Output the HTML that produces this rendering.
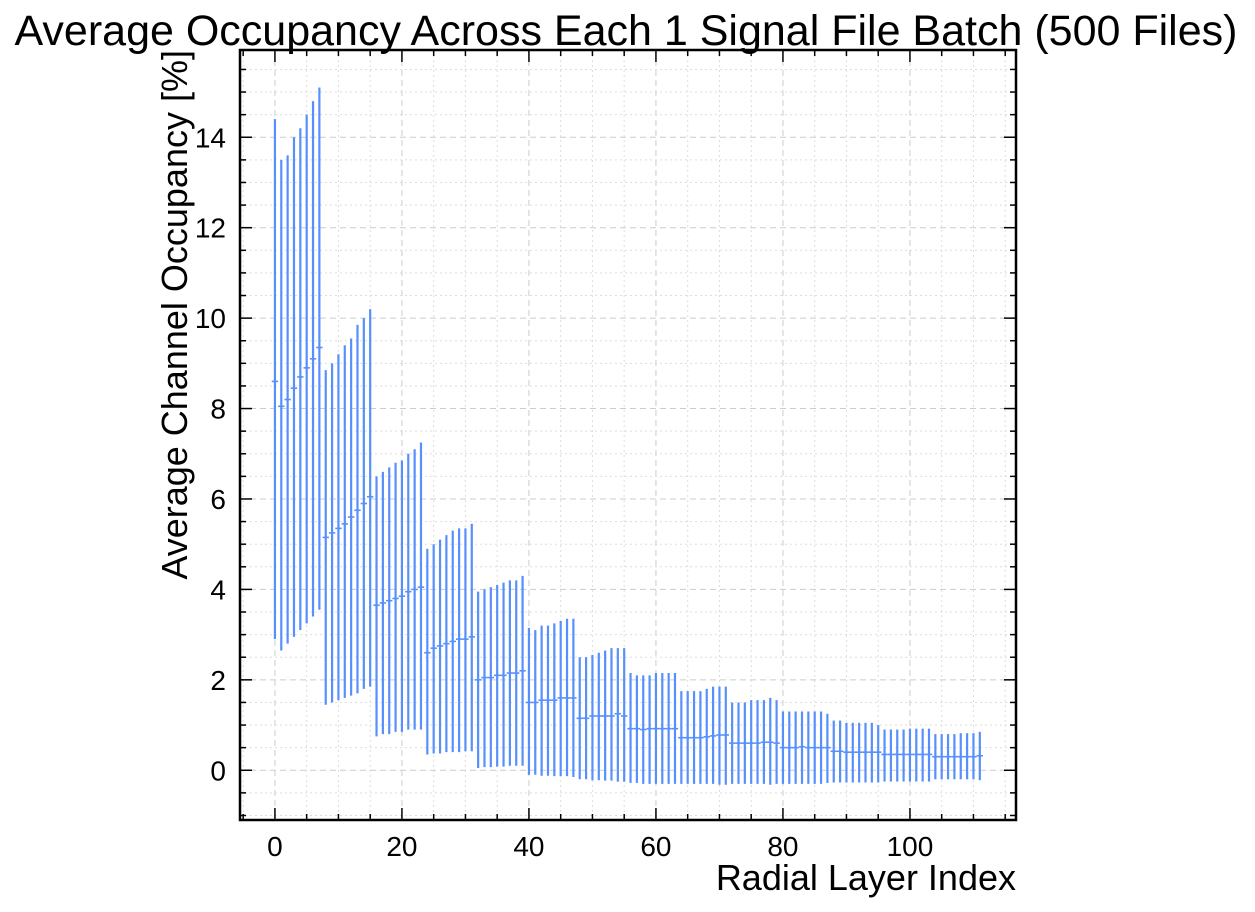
<!DOCTYPE html>
<html><head><meta charset="utf-8"><style>
body{margin:0;background:#fff;font-family:"Liberation Sans",sans-serif}
</style></head><body>
<svg id="c" width="1255" height="907" xmlns="http://www.w3.org/2000/svg" style="font-family:'Liberation Sans',sans-serif"></svg>
<script>
const layers=[];for(let i=0;i<112;i++)layers.push(i);
const means=[8.6,8.05,8.2,8.45,8.7,8.9,9.1,9.35, 5.15,5.25,5.35,5.45,5.6,5.75,5.9,6.05, 3.65,3.7,3.75,3.8,3.85,3.95,4.0,4.05, 2.6,2.7,2.75,2.8,2.85,2.9,2.9,2.95, 2.0,2.05,2.05,2.1,2.1,2.15,2.15,2.2, 1.5,1.5,1.55,1.55,1.55,1.6,1.6,1.6, 1.15,1.15,1.2,1.2,1.2,1.2,1.25,1.2, 0.92,0.92,0.9,0.92,0.92,0.92,0.92,0.92, 0.72,0.72,0.72,0.72,0.74,0.76,0.78,0.78, 0.6,0.6,0.6,0.6,0.6,0.62,0.62,0.6, 0.5,0.5,0.5,0.52,0.5,0.5,0.5,0.5, 0.42,0.42,0.4,0.4,0.4,0.4,0.4,0.4, 0.35,0.35,0.35,0.35,0.35,0.35,0.35,0.35, 0.3,0.3,0.3,0.3,0.3,0.3,0.3,0.32];
const upper=[14.4,13.5,13.6,14.0,14.2,14.5,14.8,15.1, 8.85,9.0,9.2,9.4,9.55,9.85,10.0,10.2, 6.5,6.6,6.7,6.8,6.85,7.0,7.1,7.25, 4.9,5.0,5.1,5.2,5.3,5.35,5.35,5.45, 3.95,4.0,4.05,4.1,4.15,4.2,4.2,4.3, 3.15,3.1,3.2,3.2,3.25,3.3,3.35,3.35, 2.5,2.5,2.55,2.6,2.65,2.7,2.7,2.7, 2.15,2.1,2.1,2.1,2.15,2.15,2.15,2.15, 1.75,1.75,1.75,1.75,1.8,1.85,1.85,1.85, 1.5,1.5,1.5,1.55,1.55,1.55,1.6,1.55, 1.3,1.3,1.3,1.3,1.3,1.3,1.3,1.25, 1.1,1.1,1.05,1.05,1.05,1.05,1.05,1.0, 0.9,0.9,0.9,0.9,0.92,0.92,0.92,0.92, 0.8,0.8,0.8,0.8,0.82,0.82,0.82,0.85];
const lower=[2.9,2.65,2.8,2.95,3.1,3.25,3.4,3.55, 1.45,1.5,1.55,1.6,1.65,1.7,1.8,1.85, 0.75,0.8,0.8,0.85,0.85,0.9,0.9,0.9, 0.35,0.37,0.37,0.4,0.4,0.4,0.42,0.42, 0.05,0.07,0.07,0.08,0.08,0.1,0.1,0.1, -0.1,-0.1,-0.12,-0.12,-0.13,-0.13,-0.13,-0.15, -0.2,-0.2,-0.22,-0.22,-0.23,-0.23,-0.25,-0.25, -0.28,-0.28,-0.3,-0.3,-0.3,-0.3,-0.3,-0.3, -0.3,-0.3,-0.3,-0.3,-0.3,-0.3,-0.32,-0.32, -0.3,-0.3,-0.3,-0.3,-0.3,-0.3,-0.32,-0.3, -0.3,-0.3,-0.3,-0.3,-0.3,-0.3,-0.3,-0.28, -0.27,-0.27,-0.27,-0.27,-0.27,-0.27,-0.27,-0.27, -0.25,-0.25,-0.25,-0.25,-0.25,-0.25,-0.25,-0.25, -0.2,-0.2,-0.2,-0.2,-0.2,-0.2,-0.2,-0.22];
const xTicks=[0,20,40,60,80,100];
const yTicks=[0,2,4,6,8,10,12,14];
const L=240,R=1016,T=50,B=820;
const xMin=-5.5,xMax=116.7,yMin=-1.1,yMax=15.93;
const X=v=>L+(v-xMin)/(xMax-xMin)*(R-L);
const Y=v=>B-(v-yMin)/(yMax-yMin)*(B-T);
const svg=document.getElementById('c');const NS='http://www.w3.org/2000/svg';
function mk(t,a,p){const e=document.createElementNS(NS,t);for(const k in a)e.setAttribute(k,a[k]);(p||svg).appendChild(e);return e;}
const g=mk('g',{});


for(let v=-5;v<=115;v+=5){const x=X(v);const maj=v%20===0;mk('line',{x1:x,x2:x,y1:T,y2:B,stroke:maj?'#ccc':'#ddd','stroke-width':1,'stroke-dasharray':maj?'6,4':'2,3'},g);}
for(let v=-1;v<=15.5;v+=0.5){const y=Y(v);const maj=Math.abs(v%2)<1e-9;mk('line',{x1:L,x2:R,y1:y,y2:y,stroke:maj?'#ccc':'#ddd','stroke-width':1,'stroke-dasharray':maj?'6,4':'2,3'},g);}
const s=mk('g',{});


layers.forEach((l,i)=>{
 const e=mk('line',{x1:X(l),x2:X(l),y1:Y(upper[i]),y2:Y(lower[i]),stroke:'#5790fc','stroke-width':2.2},s);
 
 
 const h=mk('line',{x1:X(l-0.5),x2:X(l+0.5),y1:Y(means[i]),y2:Y(means[i]),stroke:'#5790fc','stroke-width':1.6},s);
 
 
});
for(let v=-5;v<=115;v+=5){const x=X(v);const len=v%20===0?12:6;mk('line',{x1:x,x2:x,y1:B,y2:B-len,stroke:'#000','stroke-width':1.5});mk('line',{x1:x,x2:x,y1:T,y2:T+len,stroke:'#000','stroke-width':1.5});}
for(let v=-1;v<=15.5;v+=0.5){const y=Y(v);const maj=Math.abs(v%2)<1e-9;const len=maj?12:6;mk('line',{x1:L,x2:L+len,y1:y,y2:y,stroke:'#000','stroke-width':1.5});mk('line',{x1:R,x2:R-len,y1:y,y2:y,stroke:'#000','stroke-width':1.5});}
mk('rect',{x:L,y:T,width:R-L,height:B-T,fill:'none',stroke:'#000','stroke-width':2.5});
xTicks.forEach(v=>{const t=mk('text',{x:X(v),y:B+36,'text-anchor':'middle',style:'font-size:28px'});t.textContent=v;

});
yTicks.forEach(v=>{const t=mk('text',{x:L-14,y:Y(v)+10,'text-anchor':'end',style:'font-size:28px'});t.textContent=v;

});
</script>
<svg width="1255" height="907" style="position:absolute;left:0;top:0;font-family:'Liberation Sans',sans-serif" xmlns="http://www.w3.org/2000/svg">
<text x="626" y="45" text-anchor="middle" style="font-size:43px">Average Occupancy Across Each 1 Signal File Batch (500 Files)</text>
<text x="1016" y="890" text-anchor="end" style="font-size:36px">Radial Layer Index</text>
<text transform="translate(187,50) rotate(-90)" text-anchor="end" style="font-size:36px">Average Channel Occupancy [%]</text>
</svg>
</body></html>
